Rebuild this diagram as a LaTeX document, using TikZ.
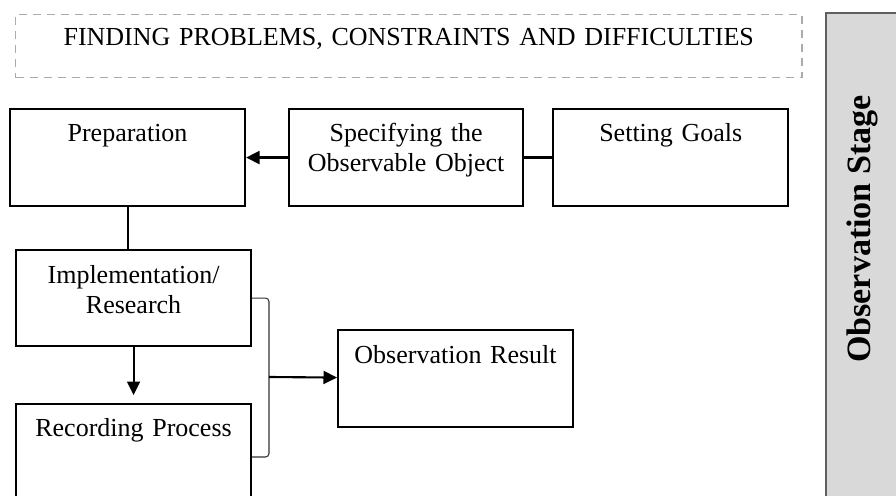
\documentclass[tikz,border=0pt]{standalone}
\usepackage{fontspec}
\setmainfont{Liberation Serif}
\usetikzlibrary{positioning,arrows.meta}
\newlength\pxu
\setlength\pxu{0.02cm}
\definecolor{stagegray}{HTML}{D9D9D9}
\definecolor{stageedge}{HTML}{5F5F5F}
\definecolor{dashgray}{HTML}{ABABAB}

\begin{document}
\begin{tikzpicture}[x=\pxu, y=-\pxu, node distance=42\pxu,
	main/.style={draw, line width=1.2pt, inner sep=0pt, align=center, anchor=north west, text width=235\pxu, text height=32\pxu, text depth=65\pxu, font=\fontsize{14.8pt}{17.6pt}\selectfont},
	tip/.style={-{Triangle[length=0.27cm,width=0.26cm]}},
	bracket/.style={line width=0.6pt, draw=black!80, rounded corners=2pt},
	thick]
		\path[use as bounding box] (0,0) rectangle (896,496);
		\clip (0,0) rectangle (896,496);

		\node[main, draw=dashgray, line width=0.85pt, dash pattern=on 0.16cm off 0.12cm, text width=786\pxu, text height=31\pxu, text depth=32\pxu] (problems) at (15,14) {FINDING PROBLEMS, CONSTRAINTS AND DIFFICULTIES};

		\draw[fill=stagegray, draw=stageedge, line width=1.4pt] (826,13) rectangle (920,520);
		\node[rotate=90, anchor=base, font=\bfseries\fontsize{19.4pt}{22pt}\selectfont] (stage) at (870,229) {Observation Stage};

		\node[main] (prep) at (9,108) {Preparation};
		\node[main, text width=234\pxu, right=of prep] (spec) {Specifying the\\Observable Object};
		\node[main, right=28\pxu of spec] (goals) {Setting Goals};
		\node[main, text height=33\pxu, text depth=63\pxu] (impl) at (15,249) {Implementation/\\Research};
		\node[main, text depth=100\pxu] (rec) at (15,403) {Recording Process};
		\node[main, text height=33\pxu, text depth=64\pxu] (result) at (337,329) {Observation Result};
		\coordinate (join) at (269,377);

		\draw[tip, line width=1.2pt] (spec) -- (prep);
		\draw[line width=1.2pt] (spec) -- (goals);
		\draw[line width=1.2pt] (prep) -- (prep |- impl.north);
		\draw[tip, line width=1.2pt, shorten >=8\pxu] (impl) -- (impl |- rec.north);
		\draw[bracket] (impl.east) -| (join) |- ([yshift=-54\pxu]rec.north east);
		\draw[tip, line width=1.2pt] (join) -- (result);
	\end{tikzpicture}
\end{document}
